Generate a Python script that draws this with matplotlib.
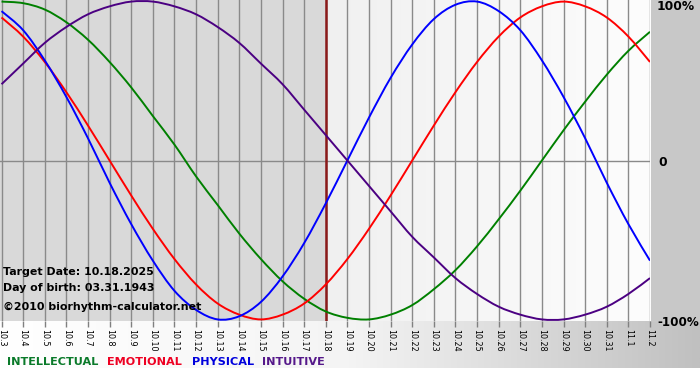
import matplotlib
matplotlib.use('Agg')
from matplotlib import pyplot as plt
from matplotlib.colors import LinearSegmentedColormap
from matplotlib.patches import Rectangle, PathPatch
from matplotlib.path import Path
import numpy as np

# Fechas del eje x (mes.dia)
fechas = ["10.3", "10.4", "10.5", "10.6", "10.7", "10.8", "10.9", "10.10", "10.11",
          "10.12", "10.13", "10.14", "10.15", "10.16", "10.17", "10.18", "10.19",
          "10.20", "10.21", "10.22", "10.23", "10.24", "10.25", "10.26", "10.27",
          "10.28", "10.29", "10.30", "10.31", "11.1", "11.2"]
dia_objetivo = "10.18"

# Valores en %
intelectual = [100, 99, 95, 87, 76, 62, 46, 28, 10, -10, -28, -46, -62, -76, -87, -95,
               -99, -100, -97, -91, -81, -69, -54, -37, -19, 0, 19, 37, 54, 69, 81]
emocional = [90, 78, 62, 43, 22, 0, -22, -43, -62, -78, -90, -97, -100, -97, -90, -78,
             -62, -43, -22, 0, 22, 43, 62, 78, 90, 97, 100, 97, 90, 78, 62]
fisico = [94, 82, 63, 40, 14, -14, -40, -63, -82, -94, -100, -98, -89, -73, -52, -27,
          0, 27, 52, 73, 89, 98, 100, 94, 82, 63, 40, 14, -14, -40, -63]
intuitivo = [48, 61, 74, 84, 92, 97, 100, 100, 97, 92, 84, 74, 61, 48, 32, 16, 0, -16,
             -32, -48, -61, -74, -84, -92, -97, -100, -100, -97, -92, -84, -74]

series = [("INTELLECTUAL", intelectual, "#008000"),
          ("EMOTIONAL", emocional, "#ff0000"),
          ("PHYSICAL", fisico, "#0000ff"),
          ("INTUITIVE", intuitivo, "#4b0082")]
colores_texto = ["#0a7a2a", "#ee0022", "#0000dd", "#55188a"]

W, H = 700, 380
fig = plt.figure(figsize=(W / 100, H / 100), dpi=100)


def px(x, y):
    return x / W, 1 - y / H


def curva_suave(xs, ys):
    # curva bezier que pasa por todos los puntos (catmull-rom)
    p = np.column_stack([xs, ys]).astype(float)
    n = len(p)
    verts = [p[0]]
    codes = [Path.MOVETO]
    for i in range(n - 1):
        p0 = p[i - 1] if i > 0 else p[i]
        p1 = p[i]
        p2 = p[i + 1]
        p3 = p[i + 2] if i + 2 < n else p[i + 1]
        verts += [p1 + (p2 - p0) / 6, p2 - (p3 - p1) / 6, p2]
        codes += [Path.CURVE4] * 3
    return Path(verts, codes)


# fondo general
fondo = fig.add_axes([0, 0, 1, 1])
fondo.axis('off')
grad = np.linspace(0, 1, 256).reshape(1, -1)
cmap_abajo = LinearSegmentedColormap.from_list('abajo', ['#ffffff', '#f4f4f4', '#c0c0c0'])
fondo.imshow(grad, extent=(0, W, 368, 321), cmap=cmap_abajo, aspect='auto')
fondo.add_patch(Rectangle((650, 0), 50, 321, color='#c8c8c8'))
fondo.set_xlim(0, W)
fondo.set_ylim(H, 0)

ax = fig.add_axes([0, 59 / H, 650 / W, 321 / H])
x = np.arange(len(fechas))
i_obj = fechas.index(dia_objetivo)

# fondo del area: gris antes de la fecha, claro despues
ax.axvspan(-1, i_obj, color='#d9d9d9', zorder=0)
cmap_der = LinearSegmentedColormap.from_list('der', ['#f0f0f0', '#fdfdfd'])
ax.imshow(grad, extent=(i_obj, len(fechas) - 1, -101, 101), cmap=cmap_der,
          aspect='auto', zorder=0)
ax.set_xlim(-0.07, len(fechas) - 1)
ax.set_ylim(-101, 101)

for xi in x:
    ax.axvline(xi, color='#8a8a8a', lw=1, zorder=1)
ax.axhline(0, color='#8a8a8a', lw=1, zorder=1)
ax.axvline(i_obj, color='#8b1a1a', lw=1.8, zorder=2)

for nombre, vals, color in series:
    ax.add_patch(PathPatch(curva_suave(x, vals), fill=False, edgecolor=color,
                           lw=1.4, zorder=3))

for s in ax.spines.values():
    s.set_visible(False)
ax.set_yticks([])
ax.set_xticks(x)
ax.set_xticklabels(fechas, rotation=270, fontsize=5.8)
ax.tick_params(axis='x', direction='out', length=4, width=1, color='#808080', pad=1.5)

# textos
fig.text(*px(3, 272), "Target Date: 10.18.2025", fontsize=7.9, fontweight='bold', va='center')
fig.text(*px(3, 288), "Day of birth: 03.31.1943", fontsize=7.9, fontweight='bold', va='center')
fig.text(*px(3, 307), "\u00a92010 biorhythm-calculator.net", fontsize=7.9, fontweight='bold', va='center')

fig.text(*px(657, 7), "100%", fontsize=8.8, fontweight='bold', va='center')
fig.text(*px(658, 162), "0", fontsize=8.8, fontweight='bold', va='center')
fig.text(*px(657, 322), "-100%", fontsize=8.6, fontweight='bold', va='center')

pos_leyenda = [7, 107, 192, 262]
for (nombre, vals, color), c, xp in zip(series, colores_texto, pos_leyenda):
    fig.text(*px(xp, 362), nombre, fontsize=8.1, fontweight='bold', color=c, va='center')

plt.savefig('out.png', dpi=100)
